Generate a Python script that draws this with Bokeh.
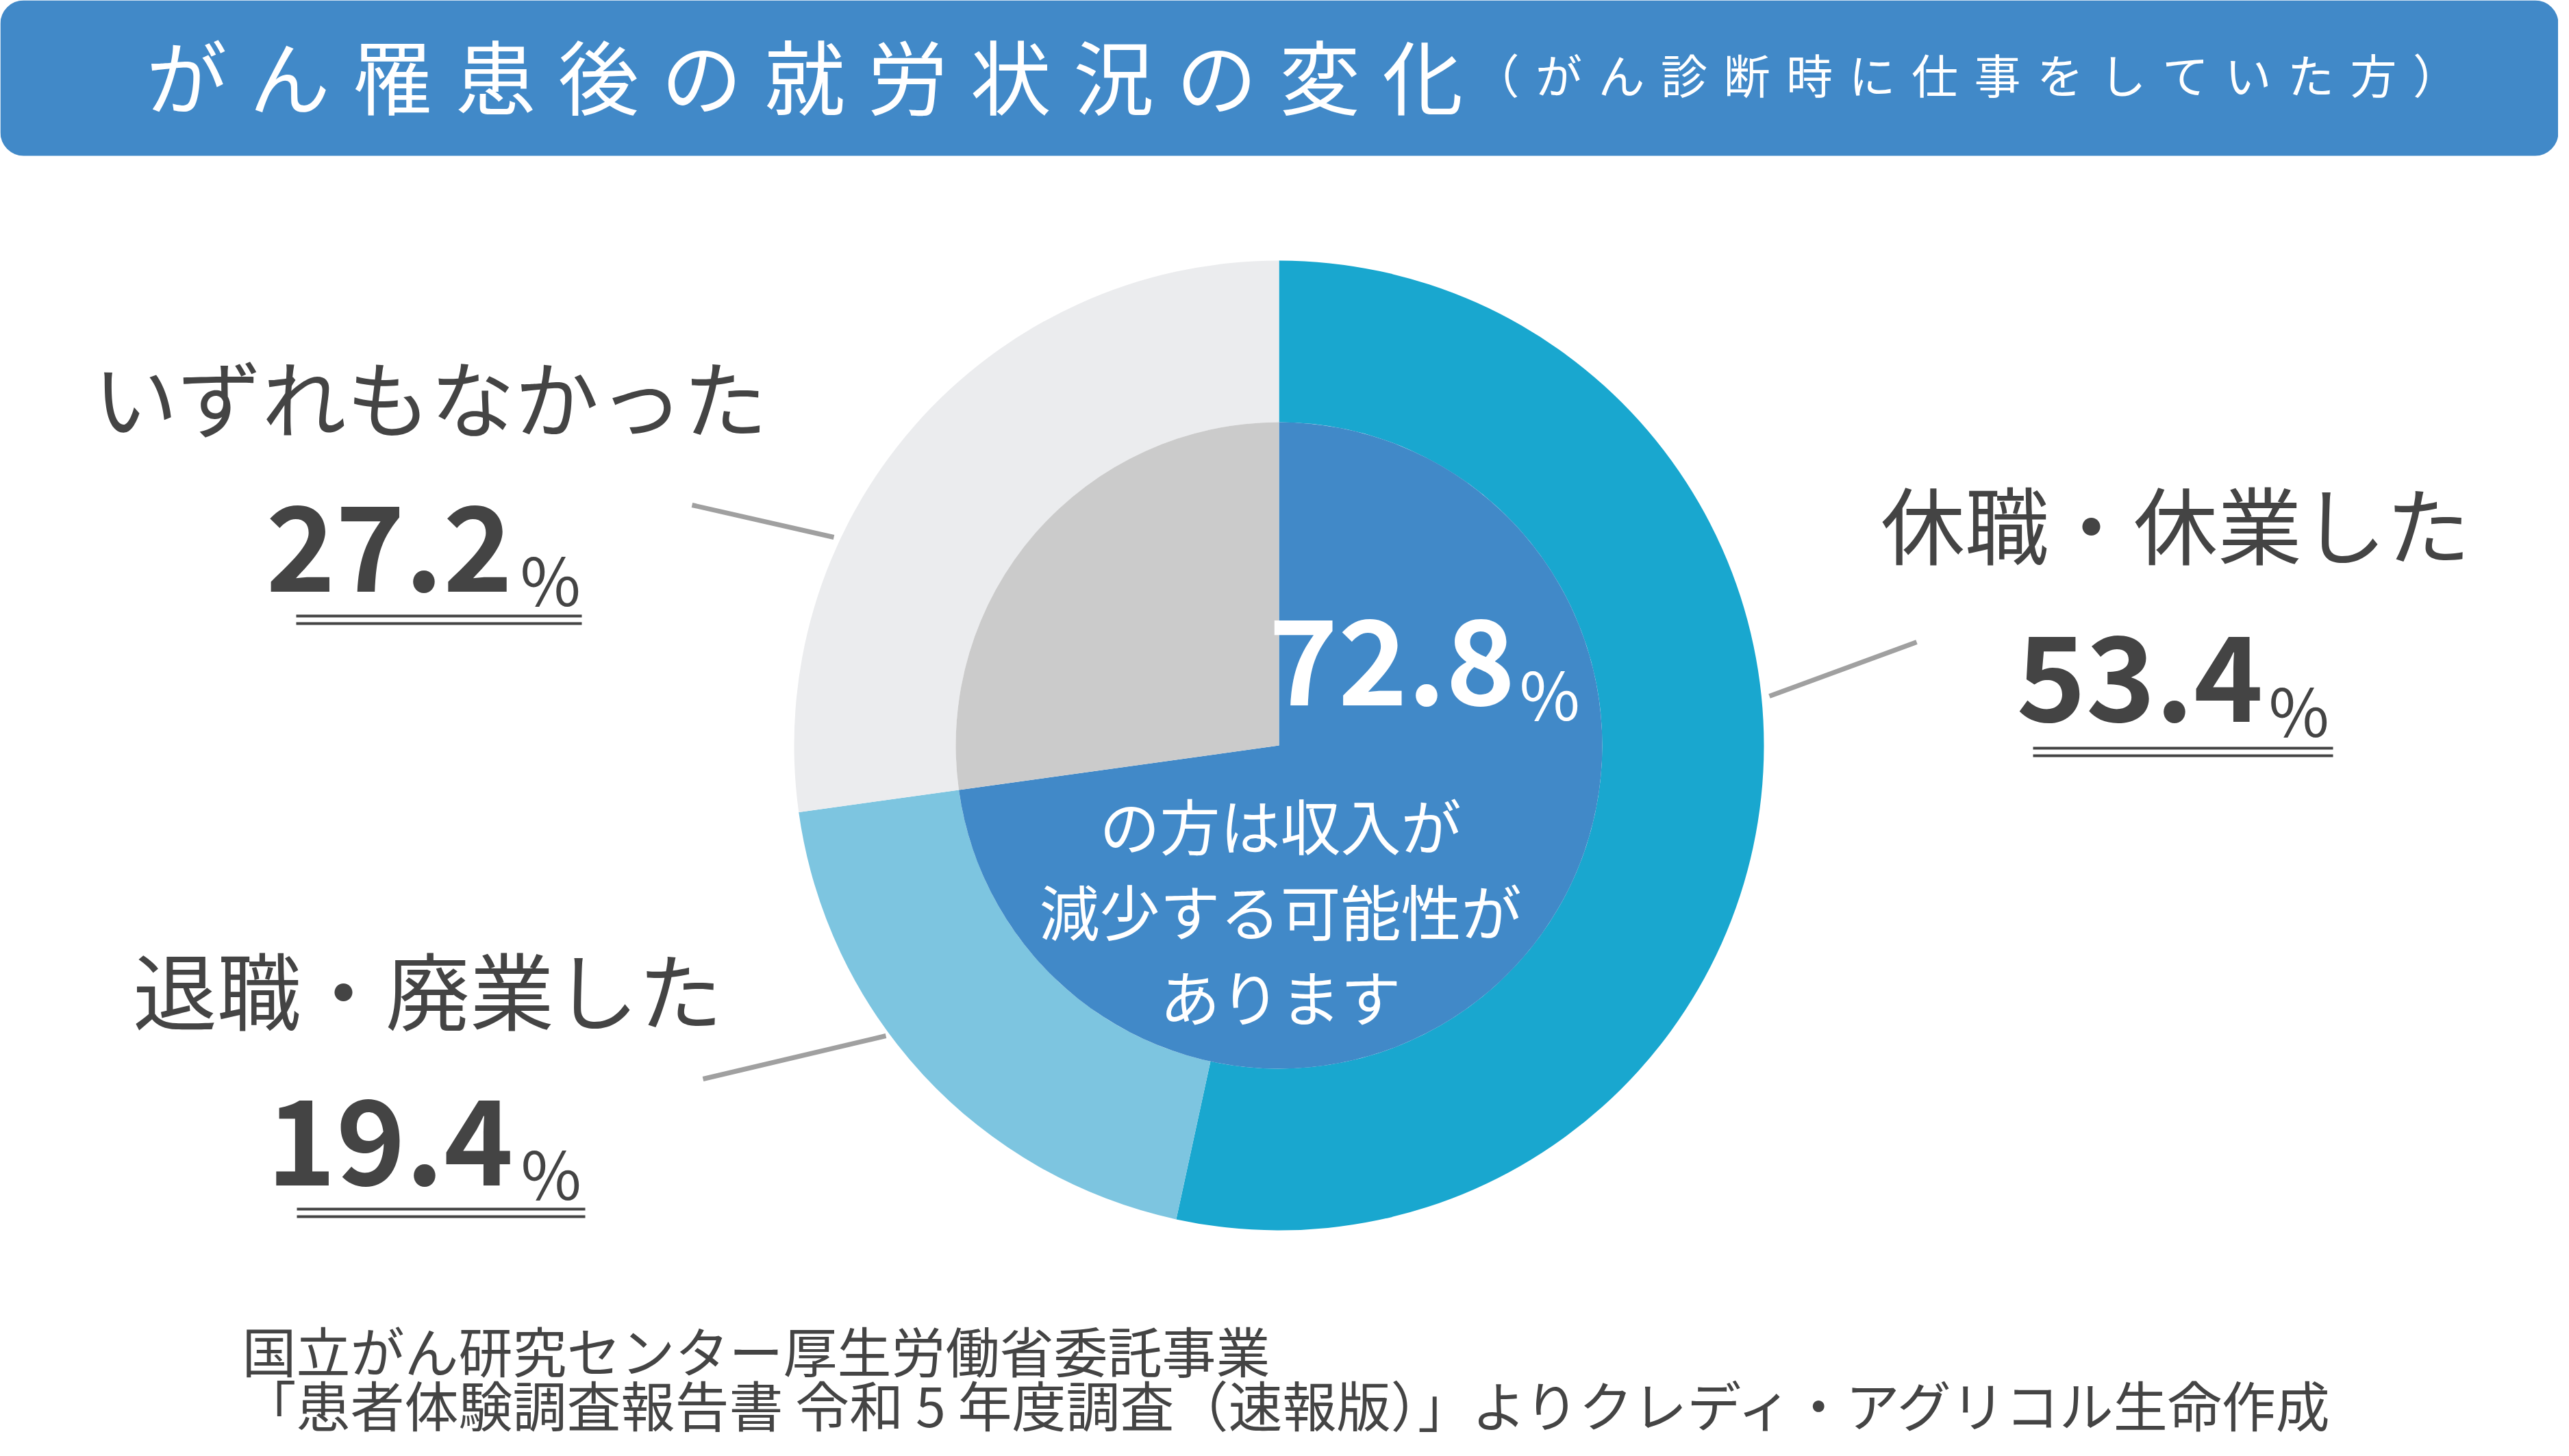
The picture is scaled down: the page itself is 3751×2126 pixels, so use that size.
from bokeh.plotting import figure
from bokeh.models import Range1d, BoxAnnotation, ColumnDataSource
from bokeh.core.properties import value
from bokeh.embed import file_html
from bokeh.resources import INLINE
import math

# ---------------- data ----------------
title = "がん罹患後の就労状況の変化"
subtitle = "（がん診断時に仕事をしていた方）"
categories = ["休職・休業した", "退職・廃業した", "いずれもなかった"]
shares = [53.4, 19.4, 27.2]
share_labels = ["53.4", "19.4", "27.2"]
inner_groups = ["収入が減少する可能性", "その他"]
inner_shares = [72.8, 27.2]
inner_label = "72.8"
center_note = ["の方は収入が", "減少する可能性が", "あります"]
source_lines = ["国立がん研究センター厚生労働省委託事業",
                "「患者体験調査報告書 令和 5 年度調査（速報版）」よりクレディ・アグリコル生命作成"]

# ---------------- styles / layout ----------------
W, H = 3751, 2126
outer_colors = ["#19a7cf", "#7dc5e0", "#ebecee"]
inner_colors = ["#4189c8", "#cbcbcb"]
DARK = "#444444"
JP = value("Noto Sans CJK JP")

def Y(py):
    return H - py

CX, CY = 1875, Y(1096)
R_OUT, R_IN = 708, 472

p = figure(width=W - 16, height=H - 16, output_backend="svg", toolbar_location=None,
           x_range=Range1d(8, W - 8), y_range=Range1d(8, H - 8),
           min_border=0, outline_line_color=None, background_fill_color="white")
p.axis.visible = False
p.grid.visible = False

# title bar
bar = BoxAnnotation(left=8, right=W - 8, top=Y(8), bottom=Y(235), fill_color="#4189c8",
                    fill_alpha=1.0, line_alpha=0, border_radius=34, level="underlay")
p.add_layout(bar)

t_x0, t_pitch = 280, 150.4
p.text(x=[t_x0 + i * t_pitch for i in range(len(title))], y=[Y(115)] * len(title),
       text=list(title), text_font=JP, text_font_size="118px", text_color="white",
       text_align="center", text_baseline="middle")
s_x0, s_pitch = 2192, 91.5
p.text(x=[s_x0 + i * s_pitch for i in range(len(subtitle))], y=[Y(115)] * len(subtitle),
       text=list(subtitle), text_font=JP, text_font_size="68px", text_color="white",
       text_align="center", text_baseline="middle")

# outer ring
def angles(vals):
    tot = sum(vals)
    cum = 0.0
    starts, ends = [], []
    for v in vals:
        starts.append(math.pi / 2 - 2 * math.pi * cum / tot)
        cum += v
        ends.append(math.pi / 2 - 2 * math.pi * cum / tot)
    return starts, ends

os_, oe_ = angles(shares)
src_out = ColumnDataSource(dict(cat=categories, start=os_, end=oe_, color=outer_colors))
p.annular_wedge(x=CX, y=CY, inner_radius=R_IN, outer_radius=R_OUT, inner_radius_units="screen",
                outer_radius_units="screen", start_angle="start", end_angle="end",
                direction="clock", fill_color="color", line_color=None, source=src_out)

is_, ie_ = angles(inner_shares)
src_in = ColumnDataSource(dict(cat=inner_groups, start=is_, end=ie_, color=inner_colors))
p.wedge(x=CX, y=CY, radius=R_IN, radius_units="screen", start_angle="start", end_angle="end",
        direction="clock", fill_color="color", line_color=None, source=src_in)

# connectors
conn = [((2591, 1024), (2806, 945)), ((1034, 1583), (1301, 1520)), ((1018, 745), (1225, 792))]
p.segment(x0=[a[0] for a, b in conn], y0=[Y(a[1]) for a, b in conn],
          x1=[b[0] for a, b in conn], y1=[Y(b[1]) for a, b in conn],
          line_color="#a0a0a0", line_width=7)

# category labels
cat_pos = [(3184, 768), (632, 1448), (636, 583)]
p.text(x=[c[0] for c in cat_pos], y=[Y(c[1]) for c in cat_pos], text=categories,
       text_font=JP, text_font_size="123px", text_color=DARK,
       text_align="center", text_baseline="middle")

# numbers (vertical centres of the digits)
num_pos = [(3312, 998), (757, 1675), (756, 808)]
p.text(x=[n[0] for n in num_pos], y=[Y(n[1]) for n in num_pos], text=share_labels,
       text_font=JP, text_font_style="bold", text_font_size="172px", text_color=DARK,
       text_align="right", text_baseline="middle")
pct_pos = [(3320, 1042), (768, 1718), (767, 851)]
p.text(x=[n[0] for n in pct_pos], y=[Y(n[1]) for n in pct_pos], text=["%"] * 3,
       text_font=JP, text_font_size="96px", text_color=DARK,
       text_align="left", text_baseline="middle")

# double underlines
ul = [(2976, 3414, 1100), (441, 862, 1773), (440, 857, 907)]
xs0, xs1, ys = [], [], []
for a, b, yy in ul:
    for off in (0, 11):
        xs0.append(a); xs1.append(b); ys.append(Y(yy + off))
p.segment(x0=xs0, y0=ys, x1=xs1, y1=ys, line_color=DARK, line_width=4)

# center text
p.text(x=[2220], y=[Y(974)], text=[inner_label], text_font=JP, text_font_style="bold",
       text_font_size="172px", text_color="white", text_align="right", text_baseline="middle")
p.text(x=[2226], y=[Y(1018)], text=["%"], text_font=JP, text_font_size="96px",
       text_color="white", text_align="left", text_baseline="middle")
p.text(x=[1877] * 3, y=[Y(1210), Y(1335), Y(1460)], text=center_note, text_font=JP,
       text_font_size="88px", text_color="white", text_align="center", text_baseline="middle")

# source
p.text(x=[361, 361], y=[Y(1978), Y(2057)], text=source_lines, text_font=JP,
       text_font_size="79px", text_color=DARK, text_align="left", text_baseline="middle")

open("out.html", "w").write(file_html(p, INLINE))
